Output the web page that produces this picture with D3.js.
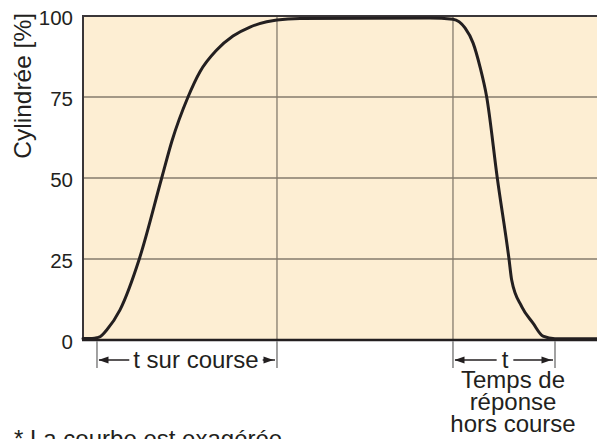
<!DOCTYPE html>
<html>
<head>
<meta charset="utf-8">
<script src="https://cdn.jsdelivr.net/npm/d3@7"></script>
<style>
  html, body { margin: 0; padding: 0; background: #fff; overflow: hidden; }
  svg { display: block; font-family: "Liberation Sans", Arial, Helvetica, sans-serif; }
</style>
</head>
<body>
<svg id="chart" width="597" height="439"></svg>
<script>
// Time axis (arbitrary units, 0–100) and displacement in percent
const timeUnits = [0, 1.75, 2.72, 3.31, 4.61, 7.2, 10.95, 15.31, 17.32, 20.43, 22.76, 26.01, 29.18, 32.49, 35.74, 37.74, 42.22, 67.51, 71.98, 74.32, 75.88, 77.24, 78.54, 80.6, 82.88, 83.4, 85.35, 87.55, 89.49, 91.83, 100];
const displacement = [0.5, 0.5, 0.7, 1, 3.1, 9.3, 25, 50, 61.5, 75, 82.8, 89.5, 93.8, 96.6, 98.2, 98.8, 99.2, 99.4, 99.0, 96.3, 91.7, 84.3, 75, 50, 25, 18.5, 10.3, 5.2, 1.2, 0.4, 0.4];

const yTicks = [0, 25, 50, 75, 100];
const gridTimes = [37.74, 71.98];
const yLabel = "Cylindrée [%]";

// Dimension spans under the axis
const spanStarts = [2.72, 71.98];
const spanEnds = [37.74, 91.83];
const spanLabels = ["t sur course", "t"];
const responseLines = ["Temps de", "réponse", "hors course"];
const footnote = "* La courbe est exagérée";

const svg = d3.select("#chart");
const plotLeft = 83, plotTop = 16, plotBottom = 340, plotRight = 597;

const x = d3.scaleLinear().domain([0, 100]).range([plotLeft, plotRight]);
const y = d3.scaleLinear().domain([0, 100]).range([plotBottom, plotTop]);

const ink = "#231f20";
const gridColor = "#857b6d";
const labelSize = 24;

// Plot background
svg.append("rect")
  .attr("x", x(0)).attr("y", y(100))
  .attr("width", x(100) - x(0)).attr("height", y(0) - y(100))
  .attr("fill", "#fdeed3");

// Horizontal gridlines
svg.append("g").selectAll("line")
  .data(yTicks.filter(d => d > 0 && d < 100))
  .join("line")
  .attr("x1", x(0)).attr("x2", x(100))
  .attr("y1", d => y(d)).attr("y2", d => y(d))
  .attr("stroke", gridColor).attr("stroke-width", 1.3);

// Vertical gridlines
svg.append("g").selectAll("line")
  .data(gridTimes)
  .join("line")
  .attr("x1", d => x(d)).attr("x2", d => x(d))
  .attr("y1", y(100)).attr("y2", y(0))
  .attr("stroke", gridColor).attr("stroke-width", 1.3);

// Frame: top and left borders
svg.append("line")
  .attr("x1", x(0)).attr("x2", x(100)).attr("y1", y(100)).attr("y2", y(100))
  .attr("stroke", "#3a3638").attr("stroke-width", 2);
svg.append("line")
  .attr("x1", x(0)).attr("x2", x(0)).attr("y1", y(100) - 1).attr("y2", y(0))
  .attr("stroke", "#3a3638").attr("stroke-width", 2);

// Y axis tick labels
const yAxis = d3.axisLeft(y).tickValues(yTicks).tickSize(0).tickPadding(10);
const gY = svg.append("g").attr("transform", `translate(${x(0)},0)`).call(yAxis);
gY.select(".domain").remove();
gY.selectAll("text")
  .attr("font-size", 20.5)
  .attr("fill", ink)
  .attr("dy", "0.42em")
  .style("font-family", "'Liberation Sans', Arial, sans-serif");

// Displacement curve
const line = d3.line()
  .x((d, i) => x(timeUnits[i]))
  .y(d => y(d))
  .curve(d3.curveMonotoneX);
svg.append("path")
  .datum(displacement)
  .attr("d", line)
  .attr("fill", "none")
  .attr("stroke", ink)
  .attr("stroke-width", 3)
  .attr("stroke-linejoin", "round")
  .attr("stroke-linecap", "round");

// Bottom axis line
svg.append("line")
  .attr("x1", x(0) - 1).attr("x2", x(100)).attr("y1", y(0)).attr("y2", y(0))
  .attr("stroke", ink).attr("stroke-width", 2.6);

// Y axis title
svg.append("text")
  .attr("transform", `translate(31,13) rotate(-90)`)
  .attr("text-anchor", "end")
  .attr("font-size", 24.5)
  .attr("fill", ink)
  .text(yLabel);

// Dimension spans
const arrowY = 360;
const tickBottom = 368;
function arrowHead(g, tipX, dir) {
  const len = 10, half = 3.6;
  g.append("path")
    .attr("d", `M${tipX},${arrowY} L${tipX - dir * len},${arrowY - half} L${tipX - dir * len},${arrowY + half} Z`)
    .attr("fill", ink);
}
const textOffsets = [9, 1];
spanStarts.forEach((s, i) => {
  const g = svg.append("g");
  const x0 = x(s), x1 = x(spanEnds[i]);
  [x0, x1].forEach(xx => {
    g.append("line")
      .attr("x1", xx).attr("x2", xx)
      .attr("y1", y(0) + 1).attr("y2", tickBottom)
      .attr("stroke", "#8a8a8a").attr("stroke-width", 1.6);
  });
  g.append("line")
    .attr("x1", x0 + 2).attr("x2", x1 - 2)
    .attr("y1", arrowY).attr("y2", arrowY)
    .attr("stroke", ink).attr("stroke-width", 1.4);
  arrowHead(g, x0 + 1.5, -1);
  arrowHead(g, x1 - 3.5, 1);
  const cx = (x0 + x1) / 2 + textOffsets[i];
  const bg = g.append("rect").attr("fill", "#fff");
  const t = g.append("text")
    .attr("x", cx).attr("y", arrowY + 8)
    .attr("text-anchor", "middle")
    .attr("font-size", labelSize)
    .attr("fill", ink)
    .text(spanLabels[i]);
  const len = t.node().getComputedTextLength();
  const pad = i === 0 ? 4 : 5;
  bg.attr("x", cx - len / 2 - pad).attr("y", arrowY - 4)
    .attr("width", len + 2 * pad).attr("height", 8);
});

// Response time caption
svg.append("g").selectAll("text")
  .data(responseLines)
  .join("text")
  .attr("x", 513)
  .attr("y", (d, i) => 387.5 + i * 22.3)
  .attr("text-anchor", "middle")
  .attr("font-size", labelSize)
  .attr("fill", ink)
  .text(d => d);

// Footnote
svg.append("text")
  .attr("x", 14).attr("y", 447)
  .attr("font-size", labelSize)
  .attr("fill", ink)
  .text(footnote);
</script>
</body>
</html>
